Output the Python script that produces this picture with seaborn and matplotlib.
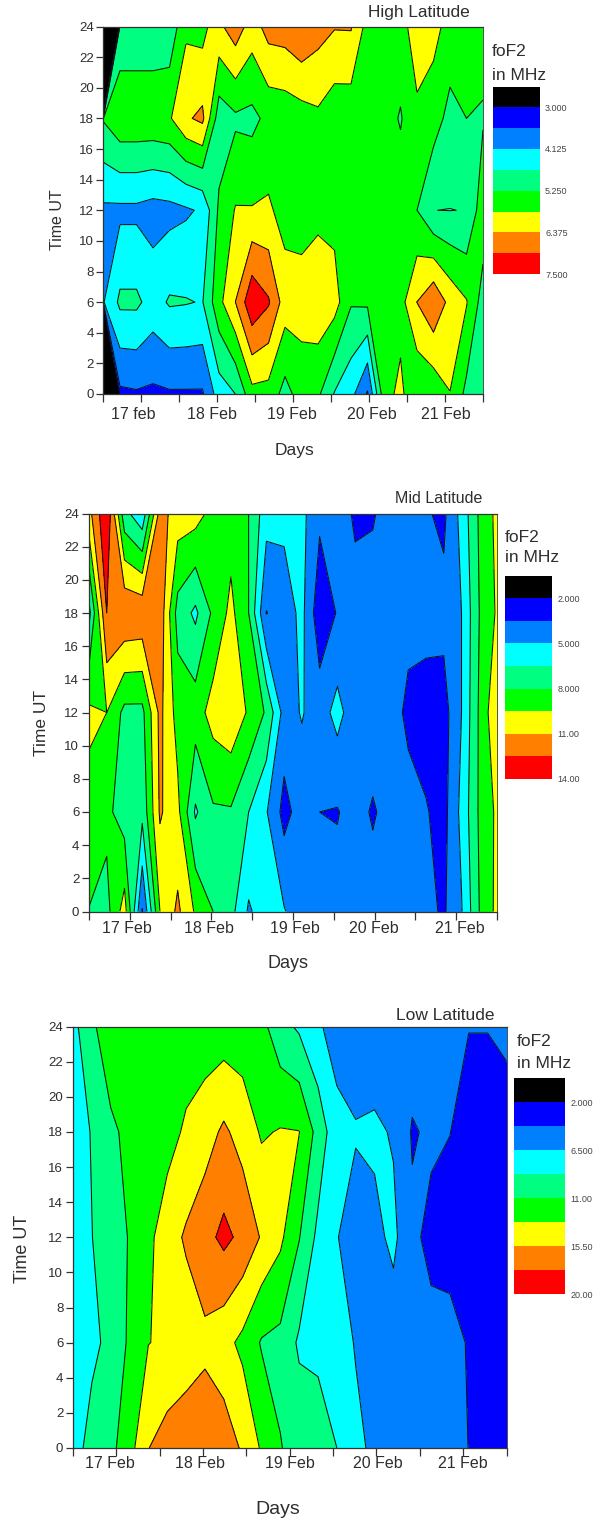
import numpy as np
import matplotlib
matplotlib.use("Agg")
import matplotlib.pyplot as plt
import seaborn as sns

sns.set_theme(style="ticks")
plt.rcParams['font.family'] = ['Liberation Sans', 'DejaVu Sans']

W, H = 609, 1520
hours = [0, 6, 12, 18, 24]
n_cols = 24

# ---------- High latitude foF2 (MHz), one row per UT hour, 24 columns
high_h00 = [-30, 3.45, 3.5, 3.45, 3.5, 3.5, 3.5, 4.4, 4.69, 5.63, 5.6, 5.05, 5.5, 5.35, 4.65, 4.3, 3.5, 5.6, 5.95, 5.3, 5.4, 5.8, 5.1, 4.9]
high_h06 = [4.1, 4.8, 4.8, 4.45, 4.75, 4.72, 4.66, 5.65, 6.38, 7.38, 7.0, 6.1, 6.05, 6.2, 6.05, 5.3, 5.35, 5.55, 5.6, 6.38, 6.85, 6.2, 5.85, 5.0]
high_h12 = [4.02, 4.0, 4.0, 3.9, 3.95, 4.05, 4.2, 5.35, 5.85, 5.85, 5.9, 5.6, 5.59, 5.67, 5.63, 5.6, 5.6, 5.6, 5.6, 5.25, 4.69, 4.68, 4.7, 5.6]
high_h18 = [5.3, 5.68, 5.68, 5.68, 5.75, 6.3, 6.5, 4.93, 5.15, 5.1, 5.4, 5.45, 5.55, 5.7, 5.45, 5.45, 5.5, 5.5, 5.2, 5.7, 5.5, 5.07, 5.25, 5.2]
high_h24 = [-30, 4.85, 4.85, 4.85, 4.85, 5.7, 5.6, 6.25, 6.7, 6.1, 6.6, 6.65, 6.9, 6.6, 6.41, 6.42, 5.6, 5.6, 5.6, 6.1, 6.0, 5.6, 5.6, 5.45]
high_levels = [-40, 3.0, 3.5625, 4.125, 4.6875, 5.25, 5.8125, 6.375, 6.9375, 7.5]
high_ticks = [3.0, 4.125, 5.25, 6.375, 7.5]
high_ticklabels = ['3.000', '4.125', '5.250', '6.375', '7.500']
high_days = ['17 feb', '18 Feb', '19 Feb', '20 Feb', '21 Feb']

# ---------- Mid latitude
mid_h00 = [7.95, 7.5, 10.2, 3.4, 9.5, 11.3, 9.3, 8.0, 7.0, 4.8, 5.8, 5.1, 4.2, 4.2, 4.2, 4.2, 4.4, 4.2, 4.0, 3.9, 3.3, 4.9, 8.0, 9.9]
mid_h06 = [9.0, 8.4, 7.2, 6.9, 11.2, 9.9, 6.3, 7.8, 7.85, 6.5, 5.1, 3.0, 4.2, 3.5, 3.4, 4.2, 3.3, 4.2, 4.0, 3.6, 3.0, 5.4, 8.2, 9.8]
mid_h12 = [9.8, 9.5, 7.6, 7.6, 11.4, 8.9, 8.8, 10.1, 10.64, 9.3, 7.8, 4.4, 5.1, 4.3, 5.5, 4.1, 4.6, 4.1, 3.2, 2.9, 2.9, 5.0, 8.2, 10.8]
mid_h18 = [6.0, 12.5, 12.35, 12.2, 12.0, 7.4, 6.2, 8.3, 9.9, 8.0, 3.45, 4.2, 5.4, 2.5, 3.6, 4.0, 4.0, 4.1, 3.9, 4.0, 3.95, 5.0, 8.0, 9.7]
mid_h24 = [10.5, 13.9, 7.0, 5.4, 11.6, 10.3, 10.1, 9.0, 8.8, 8.0, 5.6, 5.4, 5.4, 3.8, 4.2, 3.3, 3.4, 4.0, 4.2, 3.65, 3.2, 5.5, 8.2, 9.9]
mid_levels = [0.5, 2.0, 3.5, 5.0, 6.5, 8.0, 9.5, 11.0, 12.5, 14.0]
mid_ticks = [2.0, 5.0, 8.0, 11.0, 14.0]
mid_ticklabels = ['2.000', '5.000', '8.000', '11.00', '14.00']
mid_days = ['17 Feb', '18 Feb', '19 Feb', '20 Feb', '21 Feb']

# ---------- Low latitude
low_h00 = [8.0, 9.4, 10.4, 12.4, 15.45, 16.5, 17.0, 17.0, 16.8, 15.2, 13.0, 11.1, 10.2, 9.9, 8.75, 7.2, 5.9, 5.5, 5.5, 5.5, 5.5, 4.2, 3.8, 3.8]
low_h06 = [7.5, 8.35, 9.2, 11.4, 13.2, 13.6, 14.2, 15.0, 14.0, 12.7, 10.8, 10.4, 8.4, 8.2, 7.9, 6.3, 5.3, 5.3, 5.3, 4.9, 4.9, 4.1, 3.5, 3.5]
low_h12 = [7.6, 8.7, 10.2, 11.1, 12.7, 14.5, 15.8, 17.0, 18.3, 17.2, 15.3, 13.7, 11.1, 8.2, 6.6, 5.4, 5.9, 7.0, 4.7, 3.7, 3.5, 3.3, 3.3, 3.3]
low_h18 = [7.4, 8.9, 10.7, 11.4, 12.2, 12.4, 13.6, 14.5, 15.9, 14.6, 13.0, 13.4, 13.3, 10.2, 7.2, 6.7, 6.9, 6.3, 4.05, 4.6, 4.28, 3.5, 3.5, 3.6]
low_h24 = [8.0, 10.7, 12.0, 12.0, 12.0, 12.0, 12.0, 12.0, 12.0, 12.0, 11.7, 9.5, 8.4, 6.8, 5.6, 5.0, 5.0, 5.3, 5.5, 5.3, 5.3, 4.3, 4.3, 4.57]
low_levels = [-0.25, 2.0, 4.25, 6.5, 8.75, 11.0, 13.25, 15.5, 17.75, 20.0]
low_ticks = [2.0, 6.5, 11.0, 15.5, 20.0]
low_ticklabels = ['2.000', '6.500', '11.00', '15.50', '20.00']
low_days = ['17 Feb', '18 Feb', '19 Feb', '20 Feb', '21 Feb']

band_colors = sns.color_palette(['#000000', '#0000ff', '#0080ff', '#00ffff', '#00ff80',
                                 '#00ff00', '#ffff00', '#ff8000', '#ff0000'])
TXT = '#2e2e2e'

panels = [
    dict(rows=[high_h00, high_h06, high_h12, high_h18, high_h24], levels=high_levels,
         ticks=high_ticks, ticklabels=high_ticklabels, days=high_days, title='High Latitude',
         box=(103.5, 26.5, 483, 394), cbox=(493, 86.5, 539.5, 274),
         day_x=[0.39, 1.43, 2.48, 3.53, 4.51], xlab_y=415,
         title_xy=(419, 13), title_size=12.4, days_size=12.5, ut_size=11.5,
         fo_xy=(492, 52, 75), days_xy=(295, 450), ut_xy=(57.5, 220)),
    dict(rows=[mid_h00, mid_h06, mid_h12, mid_h18, mid_h24], levels=mid_levels,
         ticks=mid_ticks, ticklabels=mid_ticklabels, days=mid_days, title='Mid Latitude',
         box=(89, 513.5, 497, 911.5), cbox=(505, 575.5, 552, 779),
         day_x=[0.47, 1.47, 2.52, 3.49, 4.55], xlab_y=929,
         title_xy=(439, 498), title_size=11.5, days_size=13, ut_size=12.5,
         fo_xy=(505, 538, 558), days_xy=(288, 963), ut_xy=(41, 723)),
    dict(rows=[low_h00, low_h06, low_h12, low_h18, low_h24], levels=low_levels,
         ticks=low_ticks, ticklabels=low_ticklabels, days=low_days, title='Low Latitude',
         box=(73, 1026.5, 506.5, 1448), cbox=(514, 1078, 565, 1294),
         day_x=[0.42, 1.46, 2.50, 3.52, 4.50], xlab_y=1464,
         title_xy=(445, 1016), title_size=12.5, days_size=14, ut_size=13,
         fo_xy=(517, 1042, 1063), days_xy=(278, 1509), ut_xy=(22.5, 1249)),
]

fig = plt.figure(figsize=(W / 100, H / 100), dpi=100, facecolor='white')


def fx(px):
    return px / W


def fy(py):
    return 1 - py / H


def rect(b):
    return [fx(b[0]), fy(b[3]), fx(b[2]) - fx(b[0]), fy(b[1]) - fy(b[3])]


days_axis = np.linspace(0, 5, n_cols)
for p in panels:
    ax = fig.add_axes(rect(p['box']))
    Z = np.array(p['rows'], dtype=float)
    cs = ax.contourf(days_axis, hours, Z, levels=p['levels'], colors=band_colors)
    ax.contour(days_axis, hours, Z, levels=p['levels'][1:-1], colors='#101010', linewidths=0.75)
    ax.set_xlim(0, 5)
    ax.set_ylim(0, 24)
    ax.set_yticks(np.arange(0, 25, 2))
    ax.xaxis.remove_overlapping_locs = False
    ax.set_xticks(np.arange(0, 5.01, 0.5))
    ax.set_xticklabels([])
    ax.set_xticks(p['day_x'], labels=p['days'], minor=True)
    ax.tick_params(axis='x', which='minor', length=0, labelsize=11.5, labelcolor=TXT,
                   pad=(p['xlab_y'] - p['box'][3] - 8) * 0.72)
    ax.tick_params(axis='x', which='major', length=5.5, width=0.9, color='#333333')
    ax.tick_params(axis='y', which='major', length=5, width=0.9, color='#333333',
                   labelsize=9.5, labelcolor=TXT, pad=2)
    for s in ax.spines.values():
        s.set_color('#333333')
        s.set_linewidth(0.9)
    ax.spines['right'].set_linewidth(0.6)

    ax.set_xlabel('Days', fontsize=p['days_size'], color=TXT, va='center')
    ax.xaxis.set_label_coords(fx(p['days_xy'][0]), fy(p['days_xy'][1]), transform=fig.transFigure)
    ax.set_ylabel('Time UT', fontsize=p['ut_size'], color=TXT, va='center')
    ax.yaxis.set_label_coords(fx(p['ut_xy'][0]), fy(p['ut_xy'][1]), transform=fig.transFigure)

    fig.text(fx(p['title_xy'][0]), fy(p['title_xy'][1]), p['title'], fontsize=p['title_size'],
             color=TXT, ha='center', va='center')
    fig.text(fx(p['fo_xy'][0]), fy(p['fo_xy'][1]), 'foF2', fontsize=12.5, color=TXT, va='center')
    fig.text(fx(p['fo_xy'][0]), fy(p['fo_xy'][2]), 'in MHz', fontsize=12.5, color=TXT, va='center')

    cax = fig.add_axes(rect(p['cbox']))
    cb = fig.colorbar(cs, cax=cax, spacing='uniform', drawedges=False)
    cb.outline.set_visible(False)
    cax.invert_yaxis()
    cb.set_ticks(p['ticks'], labels=p['ticklabels'])
    cb.minorticks_off()
    cax.tick_params(length=0, labelsize=6.5, labelcolor='#444444', pad=4)

fig.savefig('out.png', dpi=100)
